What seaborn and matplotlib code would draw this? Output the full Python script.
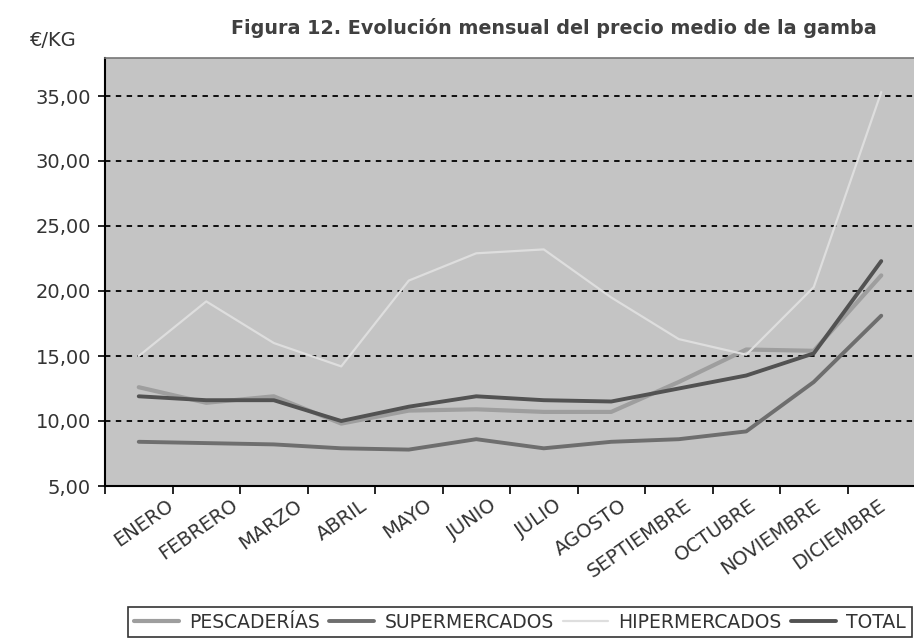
import matplotlib
matplotlib.use("Agg")
import matplotlib.pyplot as plt
import matplotlib.transforms as mtransforms
from matplotlib.ticker import FixedLocator, FuncFormatter
import seaborn as sns
import pandas as pd

meses = ["ENERO", "FEBRERO", "MARZO", "ABRIL", "MAYO", "JUNIO", "JULIO",
         "AGOSTO", "SEPTIEMBRE", "OCTUBRE", "NOVIEMBRE", "DICIEMBRE"]
pescaderias = [12.6, 11.4, 11.9, 9.8, 10.8, 10.9, 10.7, 10.7, 13.0, 15.5, 15.4, 21.2]
supermercados = [8.4, 8.3, 8.2, 7.9, 7.8, 8.6, 7.9, 8.4, 8.6, 9.2, 13.0, 18.1]
hipermercados = [15.0, 19.2, 16.0, 14.2, 20.8, 22.9, 23.2, 19.5, 16.3, 15.1, 20.3, 35.3]
total = [11.9, 11.6, 11.6, 10.0, 11.1, 11.9, 11.6, 11.5, 12.5, 13.5, 15.2, 22.3]
yticks = [5, 10, 15, 20, 25, 30, 35]

series = {
    "PESCADERÍAS": pescaderias,
    "SUPERMERCADOS": supermercados,
    "HIPERMERCADOS": hipermercados,
    "TOTAL": total,
}
colors = {"PESCADERÍAS": "#9e9e9e", "SUPERMERCADOS": "#6e6e6e",
          "HIPERMERCADOS": "#dedede", "TOTAL": "#525252"}
widths = {"PESCADERÍAS": 3.0, "SUPERMERCADOS": 2.8,
          "HIPERMERCADOS": 1.6, "TOTAL": 2.8}

rows = []
for name, vals in series.items():
    for i, v in enumerate(vals):
        rows.append({"pos": i, "mes": meses[i], "serie": name, "valor": v})
df = pd.DataFrame(rows)

sns.set_theme(style="white")
plt.rcParams["font.family"] = ["DejaVu Sans"]

fig = plt.figure(figsize=(9.14, 6.40), dpi=100)
ax = fig.add_axes([105 / 914, 1 - 486 / 640, 810 / 914, 428 / 640])
ax.set_facecolor("#c4c4c4")

for name in series:
    sub = df[df["serie"] == name]
    sns.lineplot(data=sub, x="pos", y="valor", ax=ax, color=colors[name],
                 linewidth=widths[name], label=name, legend=False,
                 solid_capstyle="round", zorder=3)

ax.set_xlim(-0.5, 11.5)
ax.set_ylim(5, 5 + 428 / 13.0)
ax.set_xlabel("")
ax.set_ylabel("")

for y in yticks[1:]:
    ax.axhline(y, color="black", linestyle=(0, (3, 3)), linewidth=1.3, zorder=2)

ax.yaxis.set_major_locator(FixedLocator(yticks))
ax.yaxis.set_major_formatter(FuncFormatter(lambda v, p: f"{v:.2f}".replace(".", ",")))
ax.tick_params(axis="y", direction="out", length=5, width=1.2, colors="black",
               labelcolor="#333333", labelsize=14, left=True, pad=5)

ax.set_xticks(range(len(meses)))
ax.set_xticklabels(meses, rotation=35, ha="right", va="top", rotation_mode="anchor",
                   fontsize=14, color="#333333")
ax.set_xticks([i - 0.5 for i in range(len(meses) + 1)], minor=True)
ax.tick_params(axis="x", which="major", length=0, pad=7)
ax.tick_params(axis="x", which="minor", direction="out", length=6, width=1.2,
               colors="black", bottom=True)

n = len(meses)
for i, lab in enumerate(ax.get_xticklabels()):
    dx = 27 - 30 * i / (n - 1)
    lab.set_transform(lab.get_transform() +
                      mtransforms.ScaledTranslation(dx / 100, 0, fig.dpi_scale_trans))

for s in ["left", "bottom"]:
    ax.spines[s].set_color("black")
    ax.spines[s].set_linewidth(1.5)
ax.spines["top"].set_color("#777777")
ax.spines["top"].set_linewidth(1.2)
ax.spines["right"].set_visible(False)

fig.text(554 / 914, 1 - 28 / 640, "Figura 12. Evolución mensual del precio medio de la gamba",
         ha="center", va="center", fontsize=13.8, fontweight="bold", color="#404040")
fig.text(30 / 914, 1 - 40 / 640, "€/KG", ha="left", va="center", fontsize=14,
         color="#333333")

handles, labels = ax.get_legend_handles_labels()
leg = fig.legend(handles, labels, loc="upper left", ncol=4,
                 bbox_to_anchor=(128 / 914, 1 - 607 / 640),
                 frameon=True, fancybox=False, fontsize=13.5,
                 handlelength=2.4, handletextpad=0.55, columnspacing=0.5,
                 borderpad=0.3, borderaxespad=0)
leg.get_frame().set_edgecolor("black")
leg.get_frame().set_linewidth(1.2)
for t in leg.get_texts():
    t.set_color("#333333")

fig.savefig("out.png", dpi=100, facecolor="white")
